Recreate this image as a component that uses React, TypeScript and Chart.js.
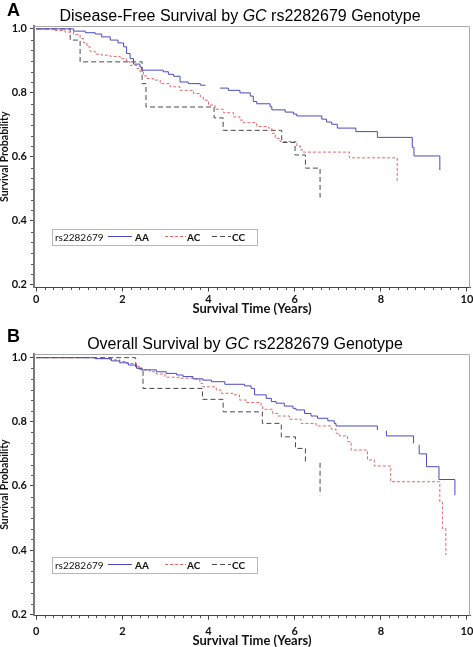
import React, { useEffect, useRef } from "react";
import { Chart, registerables } from "chart.js";

Chart.register(...registerables);

// ---------------- data ----------------
const X_TICKS = [0, 2, 4, 6, 8, 10];
const Y_TICKS = [0.2, 0.4, 0.6, 0.8, 1.0];
const GENOTYPES = ["AA", "AC", "CC"];
const SNP = "rs2282679";

// Panel A: Disease-free survival (time in years, survival probability; null = gap in the drawn curve)
const DFS_AA_T = [0, 0.87, 1.14, 1.37, 1.52, 1.72, 1.9, 2.03, 2.1, 2.18, 2.26, 2.41, 2.45, 2.95, 3.07, 3.19, 3.34, 3.53, 3.81, 3.93, 4.1, 4.27, 4.46, 4.73, 4.97, 5.04, 5.12, 5.43, 5.47, 5.78, 5.97, 6.05, 6.63, 6.74, 6.86, 6.99, 7.42, 7.92, 8.73, 8.77, 9.37];
const DFS_AA_S = [1, 0.993, 0.988, 0.984, 0.975, 0.965, 0.956, 0.944, 0.923, 0.907, 0.89, 0.881, 0.871, 0.866, 0.858, 0.852, 0.834, 0.829, 0.824, 0.824, null, 0.815, 0.808, 0.8, 0.79, 0.773, 0.766, 0.757, 0.747, 0.74, 0.734, 0.728, 0.718, 0.709, 0.702, 0.69, 0.679, 0.661, 0.63, 0.603, 0.559];
const DFS_AC_T = [0, 0.44, 0.67, 0.87, 1.02, 1.1, 1.18, 1.25, 1.37, 1.52, 1.72, 1.95, 2.1, 2.18, 2.34, 2.41, 2.49, 2.57, 2.72, 2.88, 3.11, 3.34, 3.65, 3.81, 3.88, 4.0, 4.15, 4.35, 4.58, 4.73, 4.81, 5.12, 5.39, 5.47, 5.55, 5.66, 6.05, 6.13, 6.2, 7.27, 8.38];
const DFS_AC_S = [1, 0.995, 0.99, 0.982, 0.97, 0.957, 0.944, 0.93, 0.921, 0.918, 0.914, 0.907, 0.897, 0.886, 0.876, 0.866, 0.853, 0.845, 0.84, 0.829, 0.819, 0.808, 0.798, 0.788, 0.777, 0.762, 0.749, 0.738, 0.725, 0.715, 0.707, 0.695, 0.69, 0.674, 0.658, 0.648, 0.634, 0.622, 0.615, 0.597, 0.518];
const DFS_CC_T = [0, 0.79, 1.02, 2.46, 2.55, 4.13, 4.34, 5.7, 6.01, 6.25, 6.59];
const DFS_CC_S = [1, 0.965, 0.897, 0.829, 0.756, 0.722, 0.683, 0.645, 0.606, 0.565, 0.473];

// Panel B: Overall survival
const OS_AA_T = [0, 1.37, 1.75, 1.94, 2.14, 2.33, 2.45, 2.79, 3.02, 3.26, 3.41, 3.64, 3.87, 4.07, 4.38, 4.84, 4.99, 5.07, 5.34, 5.46, 5.57, 5.76, 5.96, 6.03, 6.23, 6.38, 6.53, 6.77, 6.92, 6.96, 7.92, 8.0, 8.13, 8.13, 8.76, 8.8, 8.89, 8.89, 9.06, 9.35, 9.72];
const OS_AA_S = [1, 0.997, 0.99, 0.984, 0.977, 0.967, 0.962, 0.956, 0.951, 0.946, 0.941, 0.934, 0.93, 0.925, 0.917, 0.912, 0.904, 0.884, 0.873, 0.863, 0.858, 0.849, 0.842, 0.837, 0.826, 0.818, 0.811, 0.803, 0.795, 0.787, 0.774, null, 0.772, 0.756, 0.733, null, 0.728, 0.7, 0.66, 0.62, 0.571];
const OS_AC_T = [0, 1.37, 1.71, 1.94, 2.1, 2.33, 2.41, 2.64, 2.79, 2.99, 3.33, 3.64, 3.8, 3.87, 4.18, 4.3, 4.57, 4.72, 4.88, 5.22, 5.26, 5.49, 5.61, 5.88, 6.15, 6.5, 6.85, 6.96, 7.04, 7.23, 7.31, 7.69, 7.85, 8.23, 9.37, 9.43, 9.51];
const OS_AC_S = [1, 0.997, 0.993, 0.988, 0.982, 0.972, 0.962, 0.956, 0.949, 0.939, 0.936, 0.933, 0.92, 0.909, 0.899, 0.889, 0.884, 0.868, 0.86, 0.847, 0.839, 0.826, 0.818, 0.808, 0.795, 0.787, 0.777, 0.764, 0.756, 0.738, 0.712, 0.681, 0.662, 0.613, 0.549, 0.467, 0.384];
const OS_CC_T = [0, 2.31, 2.48, 3.86, 4.34, 5.25, 5.69, 6.02, 6.25, 6.4, 6.59, 6.59];
const OS_CC_S = [1, 0.967, 0.904, 0.87, 0.831, 0.795, 0.753, 0.717, 0.672, null, 0.672, 0.571];

// ---------------- styles ----------------
const LINE_COLORS = ["#4a4ac0", "#e26868", "#4a4a4a"];
const LINE_DASHES: number[][] = [[], [3, 2], [5, 3]];
const TICK_FONT = { family: "Lato", size: 11, weight: "bold" as const };

type Spec = {
  label: string;
  titleLead: string;
  top: number;
  height: number;
  chartTop: number;
  chartBottom: number;
  yMin: number;
  yMax: number;
  xTickPad: number;
  xTitlePad: number;
  titleTop: number;
  titleCenter: number;
  labelTop: number;
  legendTop: number;
  times: number[][];
  surv: (number | null)[][];
};

const PANELS: Spec[] = [
  {
    label: "A",
    titleLead: "Disease-Free Survival by ",
    top: 0,
    height: 320,
    chartTop: 26,
    chartBottom: 287.5,
    yMin: 0.192,
    yMax: 1.009,
    xTickPad: 1.5,
    xTitlePad: 4.5,
    titleTop: 8,
    titleCenter: 240,
    labelTop: 0.5,
    legendTop: 229,
    times: [DFS_AA_T, DFS_AC_T, DFS_CC_T],
    surv: [DFS_AA_S, DFS_AC_S, DFS_CC_S],
  },
  {
    label: "B",
    titleLead: "Overall Survival by ",
    top: 320,
    height: 327,
    chartTop: 33.5,
    chartBottom: 295.7,
    yMin: 0.1953,
    yMax: 1.013,
    xTickPad: 5,
    xTitlePad: 0,
    titleTop: 335.7,
    titleCenter: 245,
    labelTop: 327.2,
    legendTop: 557.3,
    times: [OS_AA_T, OS_AC_T, OS_CC_T],
    surv: [OS_AA_S, OS_AC_S, OS_CC_S],
  },
];

const frameAndMinor = {
  id: "frameAndMinor",
  afterDraw(chart: any) {
    const { ctx, chartArea, scales } = chart;
    const xs = scales.x;
    const ys = scales.y;
    ctx.save();
    // frame top & right
    ctx.strokeStyle = "#a8a8a8";
    ctx.lineWidth = 1;
    ctx.beginPath();
    ctx.moveTo(chartArea.left, Math.round(chartArea.top) + 0.5);
    ctx.lineTo(Math.round(chartArea.right) - 0.5, Math.round(chartArea.top) + 0.5);
    ctx.lineTo(Math.round(chartArea.right) - 0.5, chartArea.bottom);
    ctx.stroke();
    // minor ticks
    ctx.strokeStyle = "#555";
    ctx.beginPath();
    for (let i = 1; i < 50; i++) {
      if (i % 10 === 0) continue;
      const px = Math.round(xs.getPixelForValue(i * 0.2)) + 0.5;
      ctx.moveTo(px, chartArea.bottom);
      ctx.lineTo(px, chartArea.bottom + 2.5);
    }
    for (let i = 1; i < 24; i++) {
      if (i % 6 === 0) continue;
      const py = Math.round(ys.getPixelForValue(0.2 + (i * 0.2) / 6)) + 0.5;
      ctx.moveTo(chartArea.left - 3, py);
      ctx.lineTo(chartArea.left - 1, py);
    }
    ctx.stroke();
    ctx.restore();
  },
};

function Legend({ top }: { top: number }) {
  const txt: React.CSSProperties = {
    position: "absolute",
    top: top + 1.5,
    font: "10px/12px Lato",
    color: "#111",
    whiteSpace: "nowrap",
  };
  const lines = [
    [108, 132],
    [165, 186],
    [212, 231],
  ];
  const labelLeft = [135, 187, 232];
  return (
    <>
      <div
        style={{
          position: "absolute",
          left: 52,
          top,
          width: 206,
          height: 17,
          border: "1px solid #b8b8b8",
          boxSizing: "border-box",
        }}
      />
      <span style={{ ...txt, left: 55 }}>{SNP}</span>
      <svg style={{ position: "absolute", left: 0, top }} width={473} height={17}>
        {lines.map((l, i) => (
          <line
            key={i}
            x1={l[0]}
            x2={l[1]}
            y1={7.5}
            y2={7.5}
            stroke={LINE_COLORS[i]}
            strokeWidth={1}
            strokeDasharray={LINE_DASHES[i].length ? LINE_DASHES[i].join(" ") : undefined}
          />
        ))}
      </svg>
      {GENOTYPES.map((g, i) => (
        <span key={g} style={{ ...txt, left: labelLeft[i], fontWeight: "bold" }}>
          {g}
        </span>
      ))}
    </>
  );
}

function Panel({ spec }: { spec: Spec }) {
  const ref = useRef<HTMLCanvasElement | null>(null);
  useEffect(() => {
    const datasets = GENOTYPES.map((g, i) => ({
      label: g,
      data: spec.times[i].map((t, j) => ({ x: t, y: spec.surv[i][j] })),
      stepped: true as const,
      borderColor: LINE_COLORS[i],
      borderWidth: 1,
      borderDash: LINE_DASHES[i],
      pointRadius: 0,
      fill: false,
      spanGaps: false,
    }));
    const chart = new Chart(ref.current as HTMLCanvasElement, {
      type: "line",
      data: { datasets },
      options: {
        animation: false,
        responsive: false,
        maintainAspectRatio: false,
        events: [],
        layout: { padding: { top: spec.chartTop, right: 3, left: 0, bottom: 0 } },
        plugins: {
          legend: { display: false },
          tooltip: { enabled: false },
          title: { display: false },
        },
        scales: {
          x: {
            type: "linear",
            min: -0.05,
            max: 10.07,
            afterBuildTicks: (s: any) => {
              s.ticks = X_TICKS.map((v) => ({ value: v }));
            },
            afterFit: (s: any) => {
              s.height = spec.height - spec.chartBottom;
              s.paddingLeft = 0;
              s.paddingRight = 0;
            },
            ticks: {
              autoSkip: false,
              maxRotation: 0,
              padding: spec.xTickPad,
              color: "#111",
              font: TICK_FONT,
              callback: (v: any) => String(v),
            },
            grid: { drawOnChartArea: false, drawTicks: true, tickLength: 4, color: "#444" },
            border: { display: true, color: "#444", width: 1 },
            title: {
              display: true,
              text: "Survival Time (Years)",
              color: "#111",
              font: { family: "Lato", size: 13, weight: "bold", lineHeight: 1 },
              padding: { top: 0, bottom: spec.xTitlePad },
            },
          },
          y: {
            type: "linear",
            min: spec.yMin,
            max: spec.yMax,
            afterBuildTicks: (s: any) => {
              s.ticks = Y_TICKS.map((v) => ({ value: v }));
            },
            afterFit: (s: any) => {
              s.width = 34;
              s.paddingTop = 0;
              s.paddingBottom = 0;
            },
            ticks: {
              autoSkip: false,
              padding: 3,
              color: "#111",
              font: TICK_FONT,
              callback: (v: any) => Number(v).toFixed(1),
            },
            grid: { drawOnChartArea: false, drawTicks: true, tickLength: 4, color: "#444" },
            border: { display: true, color: "#7a7a7a", width: 2 },
            title: {
              display: true,
              text: "Survival Probability",
              color: "#111",
              font: { family: "Lato", size: 10.5, weight: "bold", lineHeight: 1 },
              padding: { top: -0.5, bottom: 0 },
            },
          },
        },
      } as any,
      plugins: [frameAndMinor],
    });
    return () => chart.destroy();
  }, []);

  return (
    <>
      <canvas
        ref={ref}
        width={473}
        height={spec.height}
        style={{ position: "absolute", left: 0, top: spec.top, display: "block" }}
      />
      <div
        style={{
          position: "absolute",
          left: spec.titleCenter - 230,
          width: 460,
          top: spec.titleTop,
          textAlign: "center",
          font: '16px/16px "Liberation Sans", Arial, sans-serif',
          color: "#000",
          whiteSpace: "nowrap",
        }}
      >
        {spec.titleLead}
        <i>GC</i> {SNP} Genotype
      </div>
      <div
        style={{
          position: "absolute",
          left: 7,
          top: spec.labelTop,
          font: 'bold 18px/18px "Liberation Sans", Arial, sans-serif',
          color: "#000",
        }}
      >
        {spec.label}
      </div>
      <Legend top={spec.legendTop} />
    </>
  );
}

export default function App() {
  return (
    <div
      style={{
        position: "absolute",
        left: 0,
        top: 0,
        width: 473,
        height: 647,
        background: "#fff",
        overflow: "hidden",
      }}
    >
      {PANELS.map((p) => (
        <Panel key={p.label} spec={p} />
      ))}
    </div>
  );
}
